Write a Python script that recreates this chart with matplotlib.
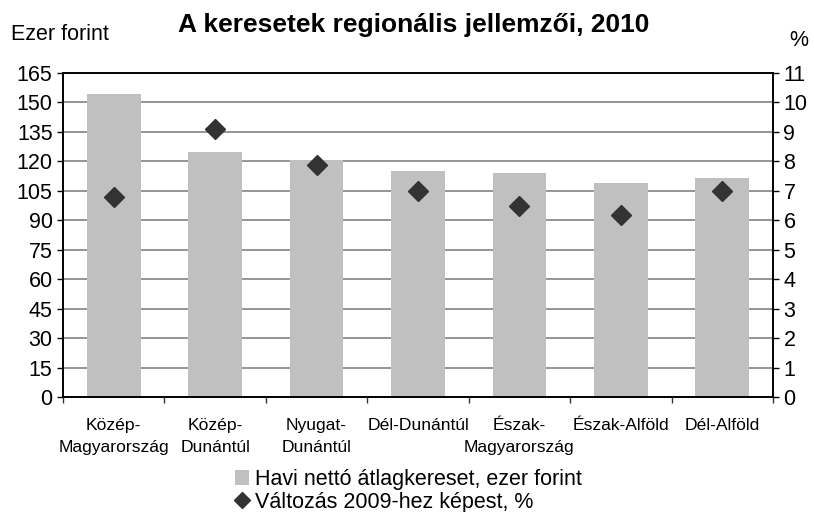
import matplotlib
matplotlib.use('Agg')
import matplotlib.pyplot as plt
from matplotlib.patches import Patch
from matplotlib.lines import Line2D
import numpy as np

plt.rcParams['font.family'] = ['Liberation Sans', 'DejaVu Sans']

regions = ['Közép-\nMagyarország', 'Közép-\nDunántúl', 'Nyugat-\nDunántúl', 'Dél-Dunántúl',
           'Észak-\nMagyarország', 'Észak-Alföld', 'Dél-Alföld']
earnings = [154.1, 124.6, 120.6, 115.3, 114.3, 109.2, 111.4]
change_pct = [6.8, 9.1, 7.87, 7.0, 6.5, 6.18, 7.0]
left_ticks = list(range(0, 166, 15))
right_ticks = list(range(0, 12))

W, H = 814, 512
fig = plt.figure(figsize=(W / 100, H / 100), dpi=100)
ax = fig.add_axes([63 / W, 1 - 397 / H, (773 - 63) / W, (397 - 73) / H])

x = np.arange(len(regions))
ax.bar(x, earnings, width=0.53, color='#c0c0c0', zorder=2)
ax.set_xlim(-0.5, len(regions) - 0.5)
ax.set_ylim(0, 165)
ax.set_yticks(left_ticks)
ax.yaxis.grid(True, color='#8c8c8c', linewidth=1.3, zorder=0)
ax.set_axisbelow(True)

# category boundaries get the tick marks, labels sit in between
ax.set_xticks(np.arange(-0.5, len(regions), 1.0))
ax.set_xticklabels([])
ax.set_xticks(x, minor=True)
ax.set_xticklabels(regions, minor=True, fontsize=12.6, linespacing=1.6)
ax.tick_params(axis='x', which='major', length=4.5, width=1, color='#333333', direction='out')
ax.tick_params(axis='x', which='minor', length=0, pad=15)
ax.tick_params(axis='y', length=4.5, width=1, labelsize=15.5, pad=3)

for side in ['left', 'right', 'top', 'bottom']:
    ax.spines[side].set_color('black')
    ax.spines[side].set_linewidth(1.2)

ax2 = ax.twinx()
ax2.plot(x, change_pct, linestyle='none', marker='D', markersize=10.5,
         color='#333333', zorder=3)
ax2.set_ylim(0, 11)
ax2.set_yticks(right_ticks)
ax2.tick_params(axis='y', length=4.5, width=1, labelsize=15.5, pad=3)
for side in ['left', 'right', 'top', 'bottom']:
    ax2.spines[side].set_color('black')
    ax2.spines[side].set_linewidth(1.2)

fig.text(414 / W, 1 - 25 / H, 'A keresetek regionális jellemzői, 2010',
         ha='center', va='center', fontsize=19, fontweight='bold')
fig.text(11 / W, 1 - 35 / H, 'Ezer forint', ha='left', va='center', fontsize=15.5)
fig.text(799 / W, 1 - 40 / H, '%', ha='center', va='center', fontsize=15.5)

handles = [Patch(facecolor='#c0c0c0', edgecolor='none'),
           Line2D([], [], linestyle='none', marker='D', markersize=8, color='#333333')]
labels = ['Havi nettó átlagkereset, ezer forint', 'Változás 2009-hez képest, %']
fig.legend(handles, labels, loc='upper left', bbox_to_anchor=(235 / W, 1 - 469 / H),
           frameon=False, fontsize=15.5, handlelength=0.65, handleheight=0.75,
           handletextpad=0.3, labelspacing=0.08, borderpad=0, borderaxespad=0)

fig.savefig('out.png', dpi=100)
